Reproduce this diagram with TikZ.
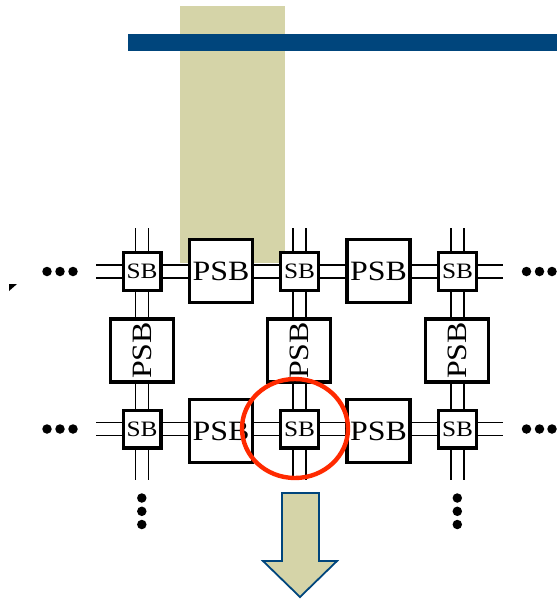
\documentclass[tikz,border=0pt]{standalone}
\usepackage{fontspec}
\setmainfont{Liberation Serif}
\definecolor{tanfill}{HTML}{D5D4A8}
\definecolor{navy}{HTML}{00457C}
\definecolor{ringred}{HTML}{FF2A00}
\begin{document}
\begin{tikzpicture}[x=1pt,y=-1pt,
  sb/.style={draw, line width=3.4pt, fill=white, minimum size=37.6pt, inner sep=0pt,
    font=\fontsize{22}{22}\selectfont},
  psb/.style={draw, line width=3.6pt, fill=white, minimum size=63.2pt, inner sep=0pt,
    font=\fontsize{28}{28}\selectfont},
  wire/.style={line width=1.5pt},
  dotnode/.style={circle, fill=black, minimum size=9.5pt, inner sep=0pt},
  bigarrow/.style={fill=tanfill, draw=navy, line width=1.8pt, line join=miter}]
\useasboundingbox (0,0) rectangle (557,600);
% background bars
\fill[tanfill] (180,6) rectangle (285,263);
\fill[navy] (128,34) rectangle (557,51);
% wire end coordinates
\coordinate (wl1) at (96,271.5);
\coordinate (wr1) at (503,271.5);
\coordinate (wl2) at (96,429);
\coordinate (wr2) at (503,429);
\coordinate (wt1) at (142,228);
\coordinate (wb1) at (142,480);
\coordinate (wt2) at (299.5,228);
\coordinate (wb2) at (299.5,480);
\coordinate (wt3) at (457.5,228);
\coordinate (wb3) at (457.5,480);
% wires
\foreach \r in {1,2}{
  \draw[wire] ([yshift=6.6pt]wl\r) -- ([yshift=6.6pt]wr\r);
  \draw[wire] ([yshift=-6.6pt]wl\r) -- ([yshift=-6.6pt]wr\r);
}
\foreach \c in {1,2,3}{
  \draw[wire] ([xshift=-6.3pt]wt\c) -- ([xshift=-6.3pt]wb\c);
  \draw[wire] ([xshift=6.3pt]wt\c) -- ([xshift=6.3pt]wb\c);
}
% switch boxes
\node[sb] (sb11) at (142,271.5) {\scalebox{1.15}[1]{SB}};
\node[sb] (sb12) at (299.5,271.5) {\scalebox{1.15}[1]{SB}};
\node[sb] (sb13) at (457.5,271.5) {\scalebox{1.15}[1]{SB}};
\node[sb] (sb21) at (142,429) {\scalebox{1.15}[1]{SB}};
\node[sb] (sb22) at (299.5,429) {\scalebox{1.15}[1]{SB}};
\node[sb] (sb23) at (457.5,429) {\scalebox{1.15}[1]{SB}};
% programmable switch boxes
\node[psb] (ph11) at (221,271) {\scalebox{1.14}[1]{PSB}};
\node[psb] (ph12) at (378.5,271) {\scalebox{1.14}[1]{PSB}};
\node[psb] (ph21) at (221,431) {\scalebox{1.14}[1]{PSB}};
\node[psb] (ph22) at (378.5,431) {\scalebox{1.14}[1]{PSB}};
\node[psb, rotate=90] (pv1) at (142,350.5) {\scalebox{1.14}[1]{PSB}};
\node[psb, rotate=90] (pv2) at (299,350.5) {\scalebox{1.14}[1]{PSB}};
\node[psb, rotate=90] (pv3) at (457,350.5) {\scalebox{1.14}[1]{PSB}};
% highlight ring
\draw[ringred, line width=4.4pt] (295,428.5) ellipse [x radius=53pt, y radius=49.5pt];
% big arrow
\draw[bigarrow] (282,493) -- (319,493) -- (319,561) -- (337,561) -- (300,597)
  -- (263,561) -- (282,561) -- cycle;
% continuation dots
\foreach \x [count=\i] in {47,60,73}{
  \node[dotnode] (dl1\i) at (\x,271.5) {};
  \node[dotnode] (dl2\i) at (\x,429) {};
}
\foreach \x [count=\i] in {526.5,539.5,552}{
  \node[dotnode] (dr1\i) at (\x,271.5) {};
  \node[dotnode] (dr2\i) at (\x,429) {};
}
\foreach \y [count=\i] in {498,511.3,524.5}{
  \node[dotnode] (dv1\i) at (141.8,\y) {};
  \node[dotnode] (dv3\i) at (457.3,\y) {};
}
% small mark at left
\fill (9,284) -- (17,284) -- (9,291) -- cycle;
\end{tikzpicture}
\end{document}
